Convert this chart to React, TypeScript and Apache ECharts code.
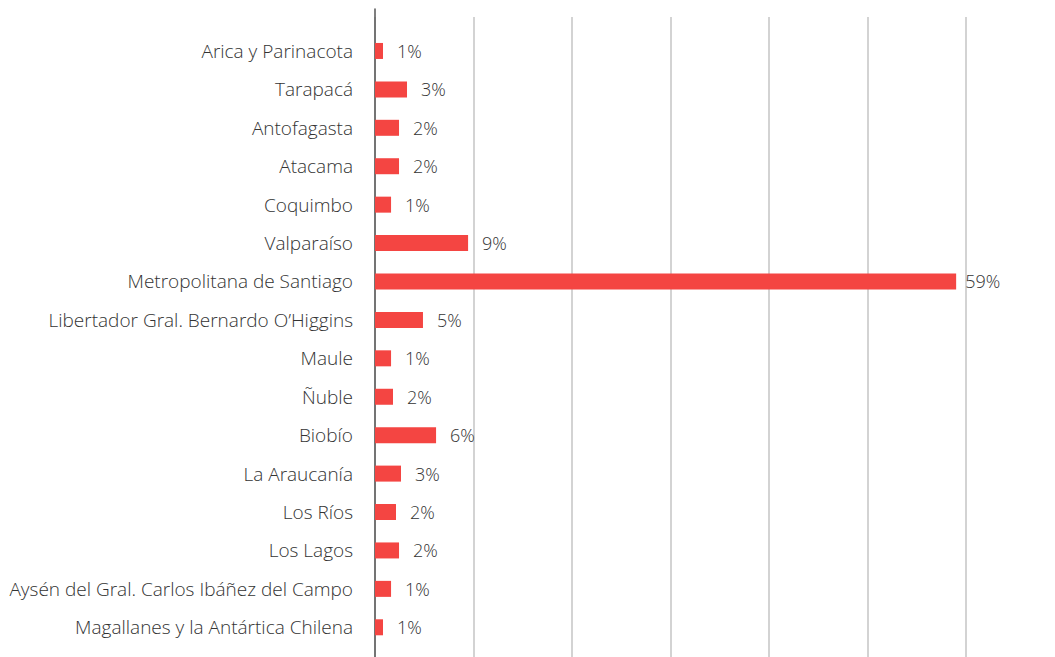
import React, { useEffect, useRef } from "react";
import * as echarts from "echarts";

const categories = [
  "Arica y Parinacota",
  "Tarapacá",
  "Antofagasta",
  "Atacama",
  "Coquimbo",
  "Valparaíso",
  "Metropolitana de Santiago",
  "Libertador Gral. Bernardo O\u2019Higgins",
  "Maule",
  "Ñuble",
  "Biobío",
  "La Araucanía",
  "Los Ríos",
  "Los Lagos",
  "Aysén del Gral. Carlos Ibáñez del Campo",
  "Magallanes y la Antártica Chilena",
];
const values = [0.81, 3.25, 2.44, 2.44, 1.63, 9.45, 59.0, 4.87, 1.63, 1.83, 6.2, 2.64, 2.13, 2.44, 1.63, 0.81];
const labels = ["1%", "3%", "2%", "2%", "1%", "9%", "59%", "5%", "1%", "2%", "6%", "3%", "2%", "2%", "1%", "1%"];
const xTicks = [0, 10, 20, 30, 40, 50, 60];

const FONT = "'Open Sans', 'Noto Sans', sans-serif";
const TEXT = "#333333";

export default function App() {
  const ref = useRef<HTMLDivElement>(null);
  useEffect(() => {
    if (!ref.current) return;
    const chart = echarts.init(ref.current, undefined, { renderer: "svg" });
    const left = 375;
    const right = 89;
    const maxVal = Math.max(...values);
    chart.setOption({
      animation: false,
      grid: [
        { left, right, top: 31.75, bottom: 10.5, containLabel: false },
        { left, right, top: 17, bottom: 0 },
        { left, right, top: 9, bottom: 0 },
      ],
      xAxis: [
        { gridIndex: 0, type: "value", min: 0, max: 60, interval: 10, show: false },
        {
          gridIndex: 1,
          type: "value",
          min: xTicks[0],
          max: xTicks[xTicks.length - 1],
          interval: 10,
          axisLine: { show: false },
          axisTick: { show: false },
          axisLabel: { show: false },
          splitLine: { show: true, lineStyle: { color: "#c4c4c4", width: 1.5 } },
        },
        { gridIndex: 2, type: "value", min: 0, max: 60, show: false },
      ],
      yAxis: [
        {
          gridIndex: 0,
          type: "category",
          data: categories,
          inverse: true,
          axisLine: { show: false },
          axisTick: { show: false },
          axisLabel: { color: TEXT, fontSize: 19, fontWeight: 300, fontFamily: FONT, margin: 22 },
        },
        {
          gridIndex: 1,
          type: "value",
          show: false,
        },
        {
          gridIndex: 2,
          type: "value",
          axisLine: { show: true, onZero: false, lineStyle: { color: "#555555", width: 1.5 } },
          axisTick: { show: false },
          axisLabel: { show: false },
          splitLine: { show: false },
        },
      ],
      series: [
        {
          type: "bar",
          xAxisIndex: 0,
          yAxisIndex: 0,
          data: values.map((v) => (v === maxVal ? { value: v, label: { distance: 9 } } : v)),
          barWidth: 16,
          itemStyle: { color: "#f44542" },
          label: {
            show: true,
            position: "right",
            distance: 14,
            color: TEXT,
            fontSize: 18,
            fontWeight: 300,
            fontFamily: FONT,
            formatter: (p: any) => labels[p.dataIndex],
          },
        },
      ],
    });
    return () => chart.dispose();
  }, []);
  return <div ref={ref} style={{ width: 1055, height: 657, position: "absolute", left: 0, top: 0 }} />;
}
